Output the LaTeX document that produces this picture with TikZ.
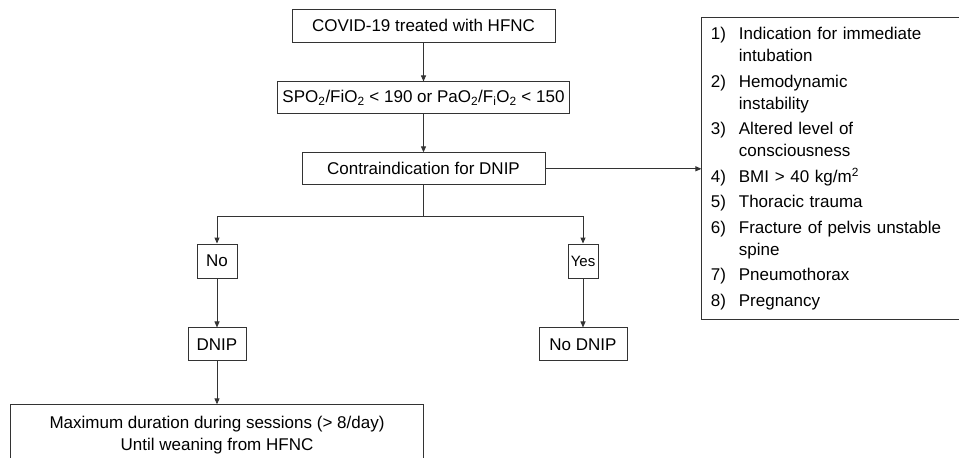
\documentclass[tikz,border=0pt]{standalone}
\usepackage{fontspec}
\setmainfont{Liberation Sans}
\usetikzlibrary{arrows.meta,positioning}

\begin{document}
\begin{tikzpicture}[x=1pt, y=-1pt, >={Triangle[length=6pt,width=5pt]},
    font=\fontsize{17}{22}\selectfont,
    box/.style={draw=black!80, line width=0.9pt, minimum height=33pt, inner sep=0pt},
    listbox/.style={draw=black!80, line width=0.9pt, text width=250pt, align=left,
      inner xsep=9pt, inner ysep=0pt, minimum height=302pt},
    flow/.style={draw=black!80, line width=0.9pt}]
\clip (0,0) rectangle (959,458);
\node[box, minimum width=263pt] (covid) at (423.5,25.5) {COVID-19 treated with HFNC};
\node[box, minimum width=292pt, minimum height=32pt, below=39pt of covid] (ratio)
  {SPO\textsubscript{2}/FiO\textsubscript{2} < 190 or PaO\textsubscript{2}/F\textsubscript{i}O\textsubscript{2} < 150};
\node[box, minimum width=243pt, minimum height=32pt, below=38pt of ratio] (contra) {Contraindication for DNIP};
\node[listbox, right=156pt of contra] (ci-list) {%
  \makebox[28pt][l]{1)}Indication for immediate\\
  \hspace*{28pt}intubation\\[3.5pt]
  \makebox[28pt][l]{2)}Hemodynamic\\
  \hspace*{28pt}instability\\[3.5pt]
  \makebox[28pt][l]{3)}Altered level of\\
  \hspace*{28pt}consciousness\\[3.5pt]
  \makebox[28pt][l]{4)}BMI > 40 kg/m\textsuperscript{2}\\[3.5pt]
  \makebox[28pt][l]{5)}Thoracic trauma\\[3.5pt]
  \makebox[28pt][l]{6)}Fracture of pelvis unstable\\
  \hspace*{28pt}spine\\[3.5pt]
  \makebox[28pt][l]{7)}Pneumothorax\\[3.5pt]
  \makebox[28pt][l]{8)}Pregnancy};
\coordinate[below=31pt of contra.south] (split);
\node[box, minimum width=40pt, minimum height=34pt] (no) at (217,261) {No};
\node[box, minimum width=30pt, minimum height=34pt, font=\fontsize{15}{18}\selectfont] (yes) at (583,261) {Yes};
\node[box, minimum width=58pt, below=49pt of no] (dnip) {DNIP};
\node[box, minimum width=88pt, below=49pt of yes] (nodnip) {No DNIP};
\node[box, minimum width=413pt, minimum height=60pt, align=center, below=43pt of dnip] (final)
  {Maximum duration during sessions (> 8/day)\\ Until weaning from HFNC};
\draw[flow,->] (covid) -- (ratio);
\draw[flow,->] (ratio) -- (contra);
\draw[flow,->] (contra) -- (ci-list);
\draw[flow,->] (contra.south) -- (split) -| (no.north);
\draw[flow,->] (split) -| (yes.north);
\draw[flow,->] (no) -- (dnip);
\draw[flow,->] (yes) -- (nodnip);
\draw[flow,->] (dnip) -- (final);
\end{tikzpicture}
\end{document}
